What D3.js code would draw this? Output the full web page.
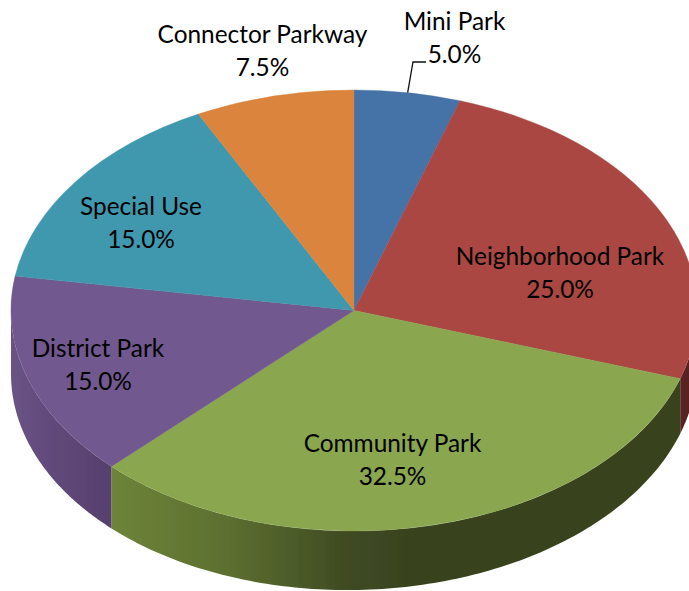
<!DOCTYPE html>
<html><head><meta charset="utf-8">
<script src="https://cdn.jsdelivr.net/npm/d3@7/dist/d3.min.js"></script>
<style>html,body{margin:0;padding:0;background:#fff}svg{display:block}</style>
</head><body><svg id="c" width="689" height="591"></svg>
<script>
const categories = ["Mini Park","Neighborhood Park","Community Park","District Park","Special Use","Connector Parkway"];
const shares = [5.0,25.0,32.5,15.0,15.0,7.5];
const colors = ["#4572a7","#aa4643","#8aa64f","#71588f","#4198af","#db843d"];
const labelAnchors = [[454.5,22],[560,257],[392.5,444],[98,349],[141,207],[262.5,35]];

const W=689,H=591,cx=354,cy=310.5,rx=343,ry=220.5;
const depth=d3.scaleLinear().domain([111,680]).range([62,55]);
const svg=d3.select("#c").attr("viewBox",[0,0,W,H]);
const defs=svg.append("defs");
defs.append("filter").attr("id","soft").attr("x","-2%").attr("y","-2%").attr("width","104%").attr("height","104%")
  .append("feGaussianBlur").attr("stdDeviation",0.5);
function grad(id,x1,x2,stops){
  const g=defs.append("linearGradient").attr("id",id).attr("gradientUnits","userSpaceOnUse")
    .attr("x1",x1).attr("x2",x2).attr("y1",0).attr("y2",0);
  stops.forEach(s=>g.append("stop").attr("offset",s[0]).attr("stop-color",s[1]));
}
grad("gGreen",111,700,[[0,"#6d8439"],[.2,"#5c6f30"],[.4,"#3f4b22"],[.5,"#39431f"],[1,"#39431f"]]);
grad("gPurple",10,111,[[0,"#6a5386"],[.5,"#5f4878"],[1,"#583f6d"]]);
grad("gRed",680,700,[[0,"#5c2422"],[1,"#4f1d1c"]]);
const wallFill={"Neighborhood Park":"url(#gRed)","Community Park":"url(#gGreen)","District Park":"url(#gPurple)"};

const slices=d3.pie().sort(null).value(d=>d.v)(categories.map((c,i)=>({c,v:shares[i],color:colors[i],pos:labelAnchors[i]})));
const px=a=>cx+rx*Math.sin(a), py=a=>cy-ry*Math.cos(a);
const lineGen=d3.line();
const marks=svg.append("g").attr("filter","url(#soft)");

// side walls: only the front half of the rim is visible
const front=[Math.PI/2,3*Math.PI/2];
slices.forEach(s=>{
  const a0=Math.max(s.startAngle,front[0]), a1=Math.min(s.endAngle,front[1]);
  if(a1<=a0) return;
  const t=d3.scaleLinear().domain([0,120]).range([a0,a1]);
  const ang=d3.range(121).map(t);
  const pts=ang.map(a=>[px(a),py(a)]).concat(ang.slice().reverse().map(a=>[px(a),py(a)+depth(px(a))]));
  marks.append("path").attr("d",lineGen(pts)+"Z").attr("fill",wallFill[s.data.c]);
});

// top faces
const arcGen=d3.arc().innerRadius(0).outerRadius(1);
const topFace=marks.append("g").attr("transform",`translate(${cx},${cy}) scale(${rx},${ry})`);
topFace.selectAll("path").data(slices).join("path")
  .attr("d",arcGen).attr("fill",d=>d.data.color)
  .attr("stroke",d=>d.data.color).attr("stroke-width",0.4).attr("vector-effect","non-scaling-stroke");

// leader line for Mini Park
const mini=slices[0];
const aL=(mini.startAngle+mini.endAngle)/2;
svg.append("path").attr("fill","none").attr("stroke","#111").attr("stroke-width",1.3)
  .attr("d",lineGen([[px(aL),py(aL)],[413,62],[426,62]]));

// labels
const fmt=d3.format(".1f");
const lab=svg.append("g").attr("font-family","Lato, 'Open Sans', sans-serif").attr("font-size",24.4).attr("fill","#000").attr("text-anchor","middle");
slices.forEach(s=>{
  const [x,y]=s.data.pos;
  lab.append("text").attr("x",x).attr("y",y+8).text(s.data.c);
  lab.append("text").attr("x",x).attr("y",y+41).text(fmt(s.data.v)+"%");
});
</script></body></html>
